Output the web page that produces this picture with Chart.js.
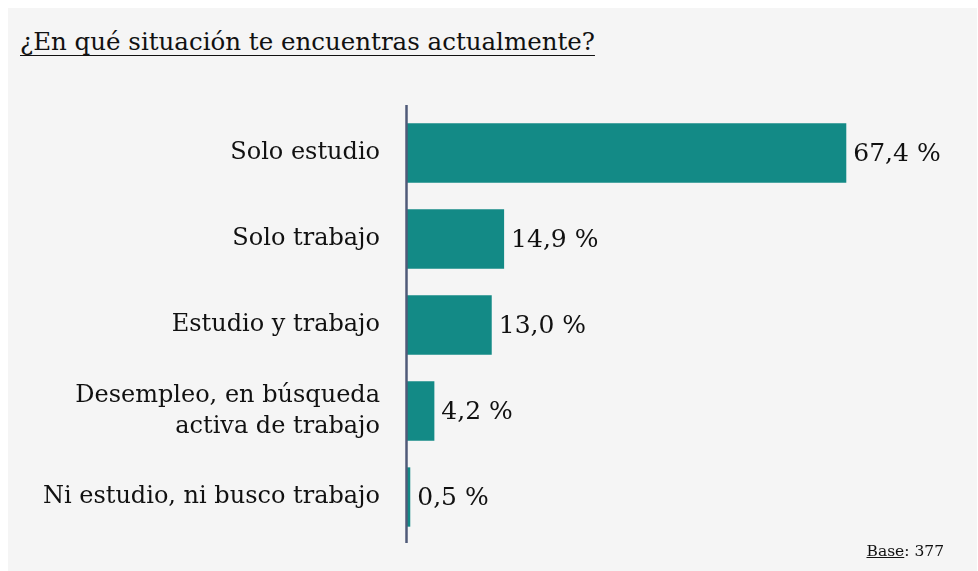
<!DOCTYPE html>
<html>
<head>
<meta charset="utf-8">
<script src="https://cdn.jsdelivr.net/npm/chart.js@4.4.0/dist/chart.umd.min.js"></script>
<style>
    html, body { margin: 0; padding: 0; background: #ffffff; }
    body { width: 978px; height: 571px; position: relative; overflow: hidden; font-family: "DejaVu Serif", serif; color: #111111; }
    .panel { position: absolute; left: 8px; top: 8px; width: 969px; height: 563px; background: #f5f5f5; }
    .title { position: absolute; left: 20px; top: 27px; font-size: 24.5px; text-decoration: underline; text-decoration-thickness: 1px; text-underline-offset: 5px; white-space: nowrap; }
    .base { position: absolute; right: 34px; top: 542px; font-size: 15.5px; }
    .base u { text-decoration-thickness: 1px; }
    #situacionChart { position: absolute; left: 0; top: 0; display: block; }
</style>
</head>
<body>
<div class="panel"></div>
<div class="title">¿En qué situación te encuentras actualmente?</div>
<canvas id="situacionChart" width="978" height="571"></canvas>
<div class="base"><u>Base</u>: 377</div>

<script>
// Categories (top to bottom) and percentages
const categories = [
    'Solo estudio',
    'Solo trabajo',
    'Estudio y trabajo',
    ['Desempleo, en búsqueda', 'activa de trabajo'],
    'Ni estudio, ni busco trabajo'
];
const percentages = [67.4, 14.9, 13.0, 4.2, 0.5];
const valueLabels = ['67,4 %', '14,9 %', '13,0 %', '4,2 %', '0,5 %'];

const barColor = '#138a86';
const axisColor = '#4f5a78';
const textColor = '#111111';
const fontFamily = '"DejaVu Serif", serif';

// Draws the value text at the end of each bar
const valueLabelPlugin = {
    id: 'valueLabels',
    afterDatasetsDraw(chart) {
        const ctx = chart.ctx;
        const meta = chart.getDatasetMeta(0);
        ctx.save();
        ctx.fillStyle = textColor;
        ctx.font = '25px ' + fontFamily;
        ctx.textAlign = 'left';
        ctx.textBaseline = 'middle';
        meta.data.forEach((bar, i) => {
            ctx.fillText(valueLabels[i], bar.x + 7, bar.y + 1);
        });
        ctx.restore();
    }
};

// Vertical axis line, a little longer than the plot area
const axisLinePlugin = {
    id: 'axisLine',
    afterDatasetsDraw(chart) {
        const { ctx, chartArea } = chart;
        ctx.save();
        ctx.strokeStyle = axisColor;
        ctx.lineWidth = 2.5;
        ctx.beginPath();
        ctx.moveTo(chartArea.left - 0.5, chartArea.top - 5);
        ctx.lineTo(chartArea.left - 0.5, chartArea.bottom + 3);
        ctx.stroke();
        ctx.restore();
    }
};

new Chart(document.getElementById('situacionChart'), {
    type: 'bar',
    data: {
        labels: categories,
        datasets: [{
            data: percentages,
            backgroundColor: barColor,
            borderWidth: 0,
            categoryPercentage: 1,
            barPercentage: 0.69
        }]
    },
    options: {
        indexAxis: 'y',
        responsive: false,
        animation: false,
        layout: {
            padding: { top: 110, bottom: 31, left: 0, right: 17 }
        },
        plugins: {
            legend: { display: false },
            tooltip: { enabled: false },
            title: { display: false }
        },
        scales: {
            x: {
                display: false,
                min: 0,
                max: 85
            },
            y: {
                border: { display: false },
                grid: { display: false, drawTicks: false },
                afterFit: function(scale) {
                    // fixed label column, and no extra room for the label overhang
                    scale.width = 407;
                    scale.paddingTop = 0;
                    scale.paddingBottom = 0;
                },
                ticks: {
                    color: textColor,
                    padding: 27,
                    font: { family: fontFamily, size: 24, lineHeight: 1.29 }
                }
            }
        }
    },
    plugins: [valueLabelPlugin, axisLinePlugin]
});
</script>
</body>
</html>
